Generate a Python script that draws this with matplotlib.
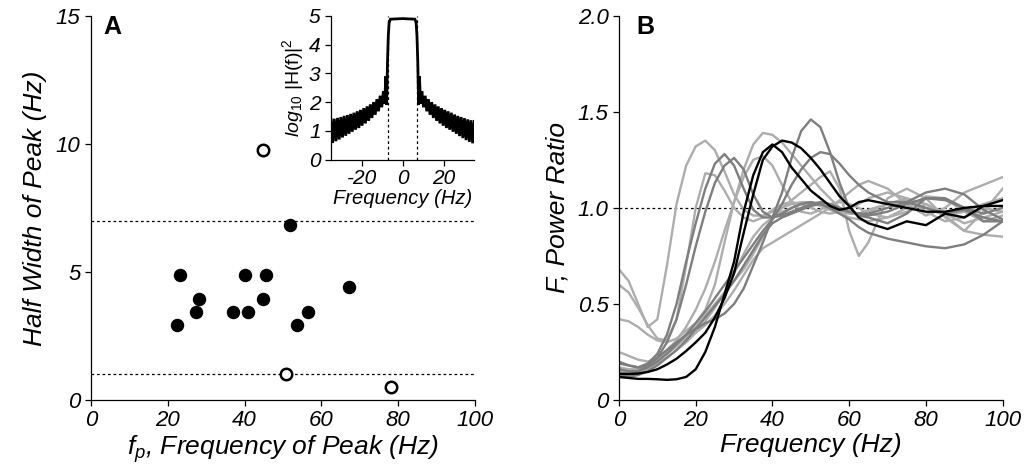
"""
Peak half-width vs. peak frequency (A) and spectral power ratios (B).
"""
import matplotlib
matplotlib.use("Agg")
import matplotlib.pyplot as plt

plt.rcParams["font.family"] = ["Liberation Sans", "DejaVu Sans"]
plt.rcParams["mathtext.fontset"] = "custom"
plt.rcParams["mathtext.it"] = "Liberation Sans:italic"
plt.rcParams["mathtext.rm"] = "Liberation Sans"
plt.rcParams["axes.unicode_minus"] = False
plt.rcParams["axes.linewidth"] = 0.9
plt.rcParams["xtick.major.size"] = 4.5
plt.rcParams["ytick.major.size"] = 4.5
plt.rcParams["xtick.major.width"] = 0.9
plt.rcParams["ytick.major.width"] = 0.9

# ── panel A: peak frequency / half width ─────────────────────────────────────
FP_IN   = [22.5, 23.3, 27.3, 28.2, 37.1, 40.0, 40.9, 44.9, 45.7, 51.7, 53.6, 56.6, 67.3]
HW_IN   = [2.93, 4.88, 3.42, 3.93, 3.42, 4.88, 3.42, 3.93, 4.88, 6.82, 2.93, 3.42, 4.40]
FP_OUT  = [44.9, 50.7, 78.1]
HW_OUT  = [9.77, 1.0, 0.52]
HW_LIMITS = [1, 7]

# ── inset: filter response log10|H(f)|^2 ─────────────────────────────────────
INSET_F = [-35.0, -34.2, -33.4, -32.6, -31.8, -31.0, -30.2, -29.4, -28.6, -27.8,
           -27.0, -26.2, -25.4, -24.6, -23.8, -23.0, -22.2, -21.4, -20.6, -19.8,
           -19.0, -18.2, -17.4, -16.6, -15.8, -15.0, -14.2, -13.4, -12.6, -11.8,
           -11.0, -10.2, -9.4, -8.8, -8.2, -7.8, -7.4, -7.0, -6.6, -6.0,
           0.0,
           6.0, 6.6, 7.0, 7.4, 7.8, 8.2, 8.8, 9.4, 10.2, 11.0,
           11.8, 12.6, 13.4, 14.2, 15.0, 15.8, 16.6, 17.4, 18.2, 19.0,
           19.8, 20.6, 21.4, 22.2, 23.0, 23.8, 24.6, 25.4, 26.2, 27.0,
           27.8, 28.6, 29.4, 30.2, 31.0, 31.8, 32.6, 33.4, 34.2, 35.0]
INSET_P = [1.40, 0.58, 1.42, 0.64, 1.45, 0.70, 1.48, 0.77, 1.52, 0.83,
           1.55, 0.90, 1.59, 0.97, 1.63, 1.04, 1.68, 1.10, 1.73, 1.18,
           1.79, 1.26, 1.85, 1.35, 1.92, 1.45, 2.00, 1.56, 2.10, 1.68,
           2.22, 1.82, 2.38, 1.95, 2.90, 1.90, 3.40, 4.30, 4.75, 4.88,
           4.90,
           4.88, 4.75, 4.30, 3.40, 1.90, 2.90, 1.95, 2.38, 1.82, 2.22,
           1.68, 2.10, 1.56, 2.00, 1.45, 1.92, 1.35, 1.85, 1.26, 1.79,
           1.18, 1.73, 1.10, 1.68, 1.04, 1.63, 0.97, 1.57, 0.90, 1.52,
           0.82, 1.48, 0.75, 1.44, 0.68, 1.40, 0.62, 1.37, 0.57, 1.33]
INSET_BAND = [-7, 7]

# ── panel B: power ratio curves ──────────────────────────────────────────────
FREQ = [0, 2.5, 5, 7.5, 10, 12.5, 15, 17.5, 20, 22.5, 25, 27.5, 30, 32.5, 35,
        37.5, 40, 42.5, 45, 47.5, 50, 52.5, 55, 57.5, 60, 62.5, 65,
        70, 75, 80, 85, 90, 95, 100]

LIGHT = [
    [0.68, 0.62, 0.50, 0.38, 0.42, 0.70, 1.02, 1.22, 1.32, 1.35, 1.30, 1.19, 1.07, 0.99, 0.96, 0.96, 0.98,
     1.00, 1.02, 1.03, 1.03, 1.02, 1.00, 0.98, 0.97, 0.97, 0.99, 1.02, 1.04, 1.00, 0.96, 0.98, 1.02, 1.05],
    [0.60, 0.56, 0.48, 0.39, 0.32, 0.31, 0.42, 0.70, 1.00, 1.18, 1.17, 1.09, 1.00, 0.95, 0.93, 0.95, 0.99,
     1.02, 1.03, 1.02, 1.00, 0.98, 0.97, 0.98, 1.00, 1.02, 1.05, 1.08, 1.05, 0.98, 0.93, 0.95, 1.00, 0.98],
    [0.42, 0.41, 0.38, 0.34, 0.31, 0.30, 0.32, 0.36, 0.40, 0.47, 0.60, 0.82, 1.03, 1.20, 1.33, 1.39, 1.38,
     1.34, 1.28, 1.22, 1.16, 1.10, 1.05, 1.00, 0.97, 0.97, 0.98, 1.02, 1.05, 1.02, 0.97, 0.92, 0.95, 0.98],
    [0.25, 0.23, 0.21, 0.20, 0.22, 0.26, 0.31, 0.38, 0.47, 0.58, 0.72, 0.88, 1.03, 1.16, 1.25, 1.27, 1.22,
     1.12, 1.03, 0.98, 0.97, 0.99, 1.02, 1.03, 1.02, 1.00, 0.97, 0.95, 1.00, 1.06, 1.05, 0.98, 0.93, 0.96],
    [0.17, 0.16, 0.16, 0.18, 0.21, 0.25, 0.29, 0.32, 0.35, 0.39, 0.44, 0.50, 0.57, 0.65, 0.73, 0.79, 0.82,
     0.85, 0.88, 0.91, 0.94, 0.97, 1.00, 1.04, 1.08, 1.12, 1.14, 1.10, 1.02, 0.96, 1.00, 1.08, 1.12, 1.16],
    [0.15, 0.15, 0.16, 0.18, 0.21, 0.24, 0.28, 0.33, 0.38, 0.44, 0.50, 0.56, 0.62, 0.68, 0.76, 0.85, 0.94,
     1.00, 1.04, 1.08, 1.12, 1.16, 1.19, 1.10, 0.88, 0.75, 0.82, 1.05, 1.10, 1.05, 0.95, 0.88, 0.98, 1.10],
    [0.13, 0.13, 0.14, 0.16, 0.19, 0.22, 0.26, 0.30, 0.35, 0.41, 0.48, 0.56, 0.66, 0.76, 0.85, 0.91, 0.95,
     0.98, 1.00, 1.02, 1.03, 1.01, 0.99, 0.97, 0.95, 0.94, 0.93, 0.95, 0.98, 1.02, 0.96, 0.88, 0.86, 0.85],
]
DARK = [
    [0.20, 0.18, 0.17, 0.19, 0.24, 0.34, 0.50, 0.72, 0.92, 1.10, 1.23, 1.28, 1.22, 1.10, 0.99, 0.95, 0.95,
     0.97, 1.00, 1.02, 1.03, 1.02, 1.00, 0.99, 0.98, 0.97, 0.97, 1.00, 1.03, 1.00, 0.97, 0.99, 0.95, 0.93],
    [0.14, 0.14, 0.15, 0.18, 0.22, 0.30, 0.42, 0.60, 0.80, 0.98, 1.13, 1.22, 1.26, 1.20, 1.07, 0.98, 0.95,
     0.96, 0.98, 1.00, 1.02, 1.03, 1.02, 1.00, 0.98, 0.97, 0.96, 0.98, 1.02, 1.05, 1.04, 1.00, 0.97, 1.00],
    [0.19, 0.18, 0.17, 0.18, 0.22, 0.26, 0.30, 0.34, 0.37, 0.40, 0.42, 0.45, 0.50, 0.58, 0.70, 0.82, 0.95,
     1.08, 1.26, 1.40, 1.46, 1.42, 1.29, 1.13, 1.00, 0.96, 0.95, 0.92, 0.97, 1.05, 1.05, 1.00, 0.93, 0.93],
    [0.16, 0.15, 0.15, 0.17, 0.20, 0.24, 0.29, 0.34, 0.40, 0.46, 0.53, 0.60, 0.67, 0.74, 0.81, 0.88, 0.94,
     1.02, 1.12, 1.20, 1.26, 1.29, 1.28, 1.23, 1.17, 1.12, 1.08, 1.03, 1.03, 1.08, 1.10, 1.07, 0.99, 0.94],
    [0.12, 0.12, 0.13, 0.15, 0.18, 0.22, 0.26, 0.31, 0.37, 0.43, 0.49, 0.55, 0.62, 0.70, 0.78, 0.86, 0.92,
     0.95, 0.97, 0.99, 1.01, 1.02, 1.00, 0.97, 0.94, 0.90, 0.87, 0.84, 0.82, 0.80, 0.79, 0.81, 0.86, 0.93],
]
BLACK = [
    [0.12, 0.115, 0.11, 0.11, 0.108, 0.105, 0.108, 0.12, 0.16, 0.25, 0.38, 0.55, 0.72, 0.98, 1.17, 1.29, 1.33,
     1.29, 1.21, 1.15, 1.09, 1.05, 1.01, 0.99, 1.00, 1.03, 1.04, 1.02, 1.00, 0.98, 0.98, 1.00, 1.01, 1.01],
    [0.135, 0.135, 0.138, 0.146, 0.16, 0.185, 0.215, 0.255, 0.30, 0.35, 0.43, 0.53, 0.66, 0.87, 1.07, 1.25, 1.32,
     1.35, 1.34, 1.31, 1.26, 1.20, 1.13, 1.06, 1.01, 0.95, 0.92, 0.89, 0.93, 0.91, 0.97, 0.95, 1.01, 1.04],
]

LIGHT_C = "#adadad"
DARK_C  = "#7e7e7e"
LABEL_KW = dict(fontsize=19, fontstyle="italic")
TICK_FS = 16


def style_axes(ax, fs=TICK_FS):
    for side in ("top", "right"):
        ax.spines[side].set_visible(False)
    ax.tick_params(direction="out", labelsize=fs, pad=3)
    for lbl in ax.get_xticklabels() + ax.get_yticklabels():
        lbl.set_fontstyle("italic")


fig = plt.figure(figsize=(10.27, 4.72), dpi=100)

# ── panel A ──────────────────────────────────────────────────────────────────
axA = fig.add_axes([0.0886, 0.1525, 0.3739, 0.8142])
axA.scatter(FP_IN, HW_IN, s=75, color="black", zorder=3, clip_on=False)
axA.scatter(FP_OUT, HW_OUT, s=68, facecolors="white", edgecolors="black",
            linewidths=1.8, zorder=3, clip_on=False)
for h in HW_LIMITS:
    axA.axhline(h, color="black", lw=0.9, ls=(0, (2.2, 2.2)), zorder=1)
axA.set_xlim(0, 100)
axA.set_ylim(0, 15)
axA.set_xticks([0, 20, 40, 60, 80, 100])
axA.set_yticks([0, 5, 10, 15])
axA.set_xlabel(r"$f_{p}$, Frequency of Peak (Hz)", labelpad=1, **LABEL_KW)
axA.set_ylabel("Half Width of Peak (Hz)", labelpad=6, **LABEL_KW)
style_axes(axA)

# ── inset ────────────────────────────────────────────────────────────────────
axI = fig.add_axes([0.3223, 0.6617, 0.1395, 0.3050])
axI.plot(INSET_F, INSET_P, color="black", lw=2.0, solid_joinstyle="miter")
for b in INSET_BAND:
    axI.axvline(b, color="black", lw=0.9, ls=(0, (2.2, 2.2)), zorder=0)
axI.set_xlim(-35, 35)
axI.set_ylim(0, 5)
axI.set_xticks([-20, 0, 20])
axI.set_yticks([0, 1, 2, 3, 4, 5])
axI.set_xlabel("Frequency (Hz)", fontsize=14.5, fontstyle="italic", labelpad=1)
axI.set_ylabel(r"$\mathit{log}_{\mathit{10}}$ |H(f)|$^{2}$", fontsize=14, labelpad=2)
style_axes(axI, fs=15)
axI.tick_params(axis="x", pad=2)

# ── panel B ──────────────────────────────────────────────────────────────────
axB = fig.add_axes([0.6027, 0.1525, 0.3736, 0.8142])
for curve in LIGHT:
    axB.plot(FREQ, curve, color=LIGHT_C, lw=1.7, solid_joinstyle="round")
for curve in DARK:
    axB.plot(FREQ, curve, color=DARK_C, lw=1.7, solid_joinstyle="round")
for curve in BLACK:
    axB.plot(FREQ, curve, color="black", lw=1.7, solid_joinstyle="round")
axB.axhline(1.0, color="black", lw=0.9, ls=(0, (2.2, 2.2)), zorder=0)
axB.set_xlim(0, 100)
axB.set_ylim(0, 2)
axB.set_xticks([0, 20, 40, 60, 80, 100])
axB.set_yticks([0, 0.5, 1.0, 1.5, 2.0])
axB.set_yticklabels(["0", "0.5", "1.0", "1.5", "2.0"])
axB.set_xlabel("Frequency (Hz)", labelpad=1, **LABEL_KW)
axB.set_ylabel("F, Power Ratio", labelpad=6, **LABEL_KW)
style_axes(axB)

fig.text(0.101, 0.943, "A", fontsize=18, fontweight="bold", va="center")
fig.text(0.620, 0.943, "B", fontsize=18, fontweight="bold", va="center")

fig.savefig("out.png", dpi=100)
